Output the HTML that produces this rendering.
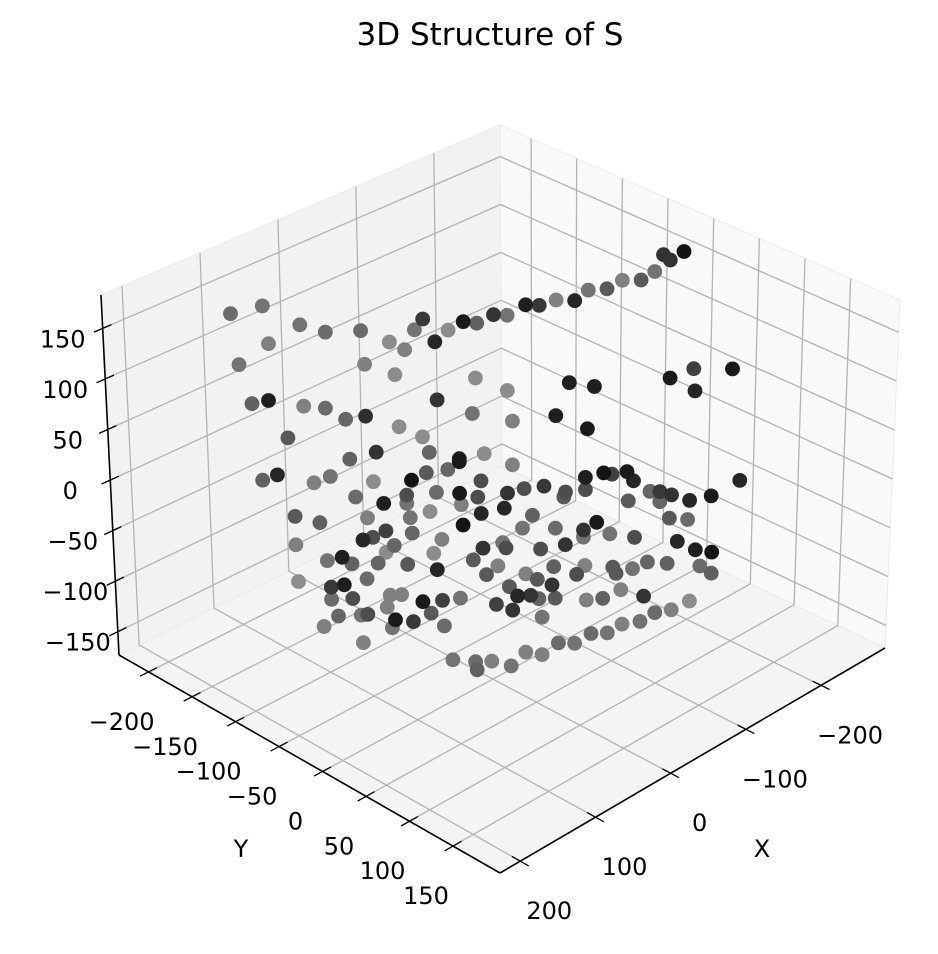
<!DOCTYPE html>
<html><head><meta charset="utf-8"><title>3D Structure of S</title>
<style>
html,body{margin:0;padding:0;background:#fff;}
svg{display:block;font-family:"DejaVu Sans","Liberation Sans",sans-serif;}
</style></head>
<body>
<svg id="chart" width="938" height="954" viewBox="0 0 938 954" xmlns="http://www.w3.org/2000/svg">
<rect width="938" height="954" fill="#fff"/>
<text x="490" y="45" font-size="31" text-anchor="middle" fill="#000">3D Structure of S</text>
<g id="panes"></g><g id="grid"></g><g id="axes"></g><g id="points"></g>
<text x="762" y="857" font-size="24" text-anchor="middle">X</text>
<text x="241" y="857" font-size="24" text-anchor="middle">Y</text>
</svg>
<script>
// axis limits and ticks
const xLim = [-285, 227];
const yLim = [-234, 204];
const zLim = [-173, 183];
const xTicks = [-200, -100, 0, 100, 200];
const yTicks = [-200, -150, -100, -50, 0, 50, 100, 150];
const zTicks = [-150, -100, -50, 0, 50, 100, 150];
// point data (x, y, z) and depth shade (grey level)
const xs = [131,112,90,75,54,109,127,52,37,28,22,17,10,2,-7,-15,34,-14,120,110,89,76,64,52,9,-12,32,18,99,46,14,62,-4,-19,
-25,-33,-44,-52,-62,-73,-81,-92,-101,-112,-120,-125,-129,-137,-33,-70,-85,-130,-144,-167,-145,-36,-62,-81,
115,106,84,74,48,59,25,16,3,-4,-17,10,-4,-15,-5,-17,42,28,28,14,96,81,52,26,-6,41,25,55,49,36,41,7,12,-18,96,77,68,62,46,28,10,-12,-20,95,53,75,67,62,75,39,32,41,19,7,14,-4,71,53,57,36,25,38,80,6,56,1,-13,-14,-23,
-36,-80,-91,-96,-105,-109,-173,-33,-43,-55,-68,-67,-80,-106,-119,-125,-132,-125,-143,-156,-31,-48,-87,-79,-62,-95,-110,-131,-142,-42,-79,-30,-32,-53,-68,-136,-147,-157,-61,-80,-97,-99,-109,-118,-130,-150,-157,-27,-44,-51,-60,-75,-34,-39,-47,-52,-62,-26,-36,-81,-91,-102,-116,-144,-54,-123,-133,-114,-103,-94,-84,-74,-64,-54,-44,-35];
const ys = [-175,-156,-134,-119,-98,-153,-171,-96,-81,-72,-66,-61,-54,-46,-37,-29,-78,-30,-164,-154,-133,-120,-108,-96,-53,-32,-76,-62,-143,-90,-58,-106,-40,-25,
-19,-11,0,8,18,29,37,48,57,68,76,81,85,93,-11,26,41,86,100,123,101,-8,18,37,
-159,-150,-128,-118,-92,-103,-69,-60,-47,-40,-27,-54,-40,-29,-39,-27,-86,-72,-72,-58,-140,-125,-96,-70,-38,-85,-69,-99,-93,-80,-85,-51,-56,-26,-140,-121,-112,-106,-90,-72,-54,-32,-24,-139,-97,-119,-111,-106,-119,-83,-76,-85,-63,-51,-58,-40,-115,-97,-101,-80,-69,-82,-124,-50,-100,-45,-31,-30,-21,
-8,36,47,52,61,65,129,-11,-1,11,24,23,36,62,75,81,88,81,99,112,-13,4,43,35,18,51,66,87,98,-2,35,-14,-12,9,24,92,103,113,17,36,53,55,65,74,86,106,113,-17,0,7,16,31,-10,-5,3,8,18,-18,-8,37,47,58,72,100,10,79,89,70,59,50,40,30,20,10,0,-9];
const zs = [157,166,149,143,146,129,107,113,136,129,149,160,138,150,159,158,104,104,69,73,69,68,58,62,81,69,53,44,37,27,29,19,24,30,
167,167,178,178,184,184,195,197,206,207,216,233,228,237,93,103,100,111,121,122,99,63,70,58,
-6,0,-6,1,-2,-18,1,9,13,21,3,-10,-10,-13,-21,-29,-23,-14,-22,-29,-40,-45,-38,-36,-41,-50,-51,-60,-57,-64,-71,-56,-70,-63,-68,-82,-78,-84,-82,-82,-86,-75,-89,-104,-98,-108,-105,-118,-120,-113,-112,-125,-118,-116,-129,-113,-136,-133,-134,-137,-138,-145,-147,-141,-161,-174,-175,-183,-174,
20,10,15,14,17,8,11,-8,-3,0,-5,-10,-2,-12,-2,-2,-5,-12,-10,-5,-23,-29,-34,-42,-41,-45,-48,-28,-29,-42,-49,-57,-62,-62,-57,-51,-59,-61,-79,-77,-78,-84,-79,-72,-73,-75,-82,-80,-87,-92,-97,-86,-100,-109,-108,-111,-110,-118,-123,-111,-109,-100,-106,-110,-129,-122,-119,-131,-134,-143,-144,-154,-154,-166,-164,-178];
const shade = [.42,.45,.45,.42,.42,.5,.45,.5,.55,.5,.45,.22,.15,.55,.1,.38,.55,.55,.38,.12,.5,.42,.4,.18,.2,.45,.55,.55,.35,.2,.4,.38,.12,.55,
.2,.45,.12,.22,.5,.15,.45,.35,.5,.35,.45,.2,.2,.08,.55,.12,.12,.1,.25,.1,.15,.5,.12,.1,
.38,.15,.5,.45,.55,.42,.08,.35,.4,.1,.3,.42,.1,.3,.5,.15,.12,.3,.45,.55,.35,.38,.5,.45,.08,.25,.4,.15,.3,.4,.55,.5,.55,.2,.5,.45,.12,.38,.4,.35,.15,.35,.35,.55,.42,.22,.12,.3,.42,.5,.5,.5,.1,.25,.35,.45,.4,.3,.45,.1,.22,.45,.5,.42,.5,.45,.42,.38,.5,
.5,.12,.08,.25,.1,.15,.15,.2,.3,.22,.3,.35,.3,.35,.4,.22,.2,.4,.15,.1,.15,.38,.1,.2,.42,.45,.3,.35,.42,.45,.45,.45,.3,.3,.2,.15,.12,.08,.38,.5,.35,.35,.45,.4,.38,.42,.38,.5,.5,.35,.2,.3,.35,.15,.2,.38,.35,.25,.2,.5,.38,.5,.2,.55,.45,.42,.5,.45,.5,.45,.42,.45,.42,.5,.5,.45];

// screen positions of the 8 box corners [u=x-norm][v=y-norm][w=z-norm]
const C = {
 '000':[502,466],'001':[500,125],'010':[885,648],'011':[900,300],
 '100':[119,655],'101':[101,295],'110':[500,873],'111':[500,475]
};
function lerp(a,b,t){return [a[0]+(b[0]-a[0])*t, a[1]+(b[1]-a[1])*t];}
function P(x,y,z){
  const u=(x-xLim[0])/(xLim[1]-xLim[0]), v=(y-yLim[0])/(yLim[1]-yLim[0]), w=(z-zLim[0])/(zLim[1]-zLim[0]);
  const c=(a,b,d)=>C[''+a+b+d];
  const a00=lerp(c(0,0,0),c(0,0,1),w), a01=lerp(c(0,1,0),c(0,1,1),w);
  const a10=lerp(c(1,0,0),c(1,0,1),w), a11=lerp(c(1,1,0),c(1,1,1),w);
  const b0=lerp(a00,a01,v), b1=lerp(a10,a11,v);
  return lerp(b0,b1,u);
}
const NS='http://www.w3.org/2000/svg';
function mk(tag,attrs,parent){const e=document.createElementNS(NS,tag);for(const k in attrs)e.setAttribute(k,attrs[k]);parent.appendChild(e);return e;}
const [X0,X1]=xLim,[Y0,Y1]=yLim,[Z0,Z1]=zLim;
function poly(pts){return pts.map(p=>p[0].toFixed(1)+','+p[1].toFixed(1)).join(' ');}
const panes=document.getElementById('panes');
let e;
e=mk('polygon',{points:poly([P(X0,Y0,Z0),P(X1,Y0,Z0),P(X1,Y0,Z1),P(X0,Y0,Z1)]),fill:'#f2f2f2',stroke:'#ebebeb'},panes);


e=mk('polygon',{points:poly([P(X0,Y0,Z0),P(X0,Y1,Z0),P(X0,Y1,Z1),P(X0,Y0,Z1)]),fill:'#f9f9f9',stroke:'#ebebeb'},panes);


e=mk('polygon',{points:poly([P(X0,Y0,Z0),P(X1,Y0,Z0),P(X1,Y1,Z0),P(X0,Y1,Z0)]),fill:'#f4f4f4',stroke:'#ebebeb'},panes);



const grid=document.getElementById('grid');
function gl(pts,name){const l=mk('polyline',{points:poly(pts),fill:'none',stroke:'#b3b3b3','stroke-width':1.3},grid);

}
xTicks.forEach(x=>gl([P(x,Y1,Z0),P(x,Y0,Z0),P(x,Y0,Z1)],'x-gridline'));
yTicks.forEach(y=>gl([P(X1,y,Z0),P(X0,y,Z0),P(X0,y,Z1)],'y-gridline'));
zTicks.forEach(z=>gl([P(X1,Y0,z),P(X0,Y0,z),P(X0,Y1,z)],'z-gridline'));

const axes=document.getElementById('axes');
function line(a,b,name,w){const l=mk('line',{x1:a[0],y1:a[1],x2:b[0],y2:b[1],stroke:'#000','stroke-width':w},axes);

}
function label(p,txt,name){const t=mk('text',{x:p[0],y:p[1],'font-size':24,'text-anchor':'middle','dominant-baseline':'middle'},axes);t.textContent=txt;

}
function fmt(v){return v<0?'\u2212'+(-v):''+v;}
line(P(X0,Y1,Z0),P(X1,Y1,Z0),'x-axis-line',1.6);
line(P(X1,Y0,Z0),P(X1,Y1,Z0),'y-axis-line',1.6);
line(P(X1,Y0,Z0),P(X1,Y0,Z1),'z-axis-line',1.6);
const dy=(Y1-Y0)*0.022, dx=(X1-X0)*0.022;
xTicks.forEach(x=>{const a=P(x,Y1-dy,Z0),b=P(x,Y1+dy,Z0);line(a,b,'x-tick',1.3);const p=P(x,Y1,Z0);label([p[0]+29,p[1]+51],fmt(x),'x-tick-label');});
yTicks.forEach(y=>{const a=P(X1-dx,y,Z0),b=P(X1+dx,y,Z0);line(a,b,'y-tick',1.3);const p=P(X1,y,Z0);label([p[0]-27,p[1]+51],fmt(y),'y-tick-label');});
zTicks.forEach(z=>{const a=P(X1-dx,Y0,z),b=P(X1+dx,Y0,z);line(a,b,'z-tick',1.3);const p=P(X1,Y0,z);label([p[0]-40,p[1]+12],fmt(z),'z-tick-label');});

const pg=document.getElementById('points');
const idx=xs.map((_,i)=>i).sort((a,b)=>shade[b]-shade[a]);
idx.forEach(i=>{
  const p=P(xs[i],ys[i],zs[i]);
  const g=Math.round(shade[i]*255);
  const c=mk('circle',{cx:p[0].toFixed(1),cy:p[1].toFixed(1),r:7.4,fill:'rgb('+g+','+g+','+g+')'},pg);
  
  
});
</script>
</body></html>
